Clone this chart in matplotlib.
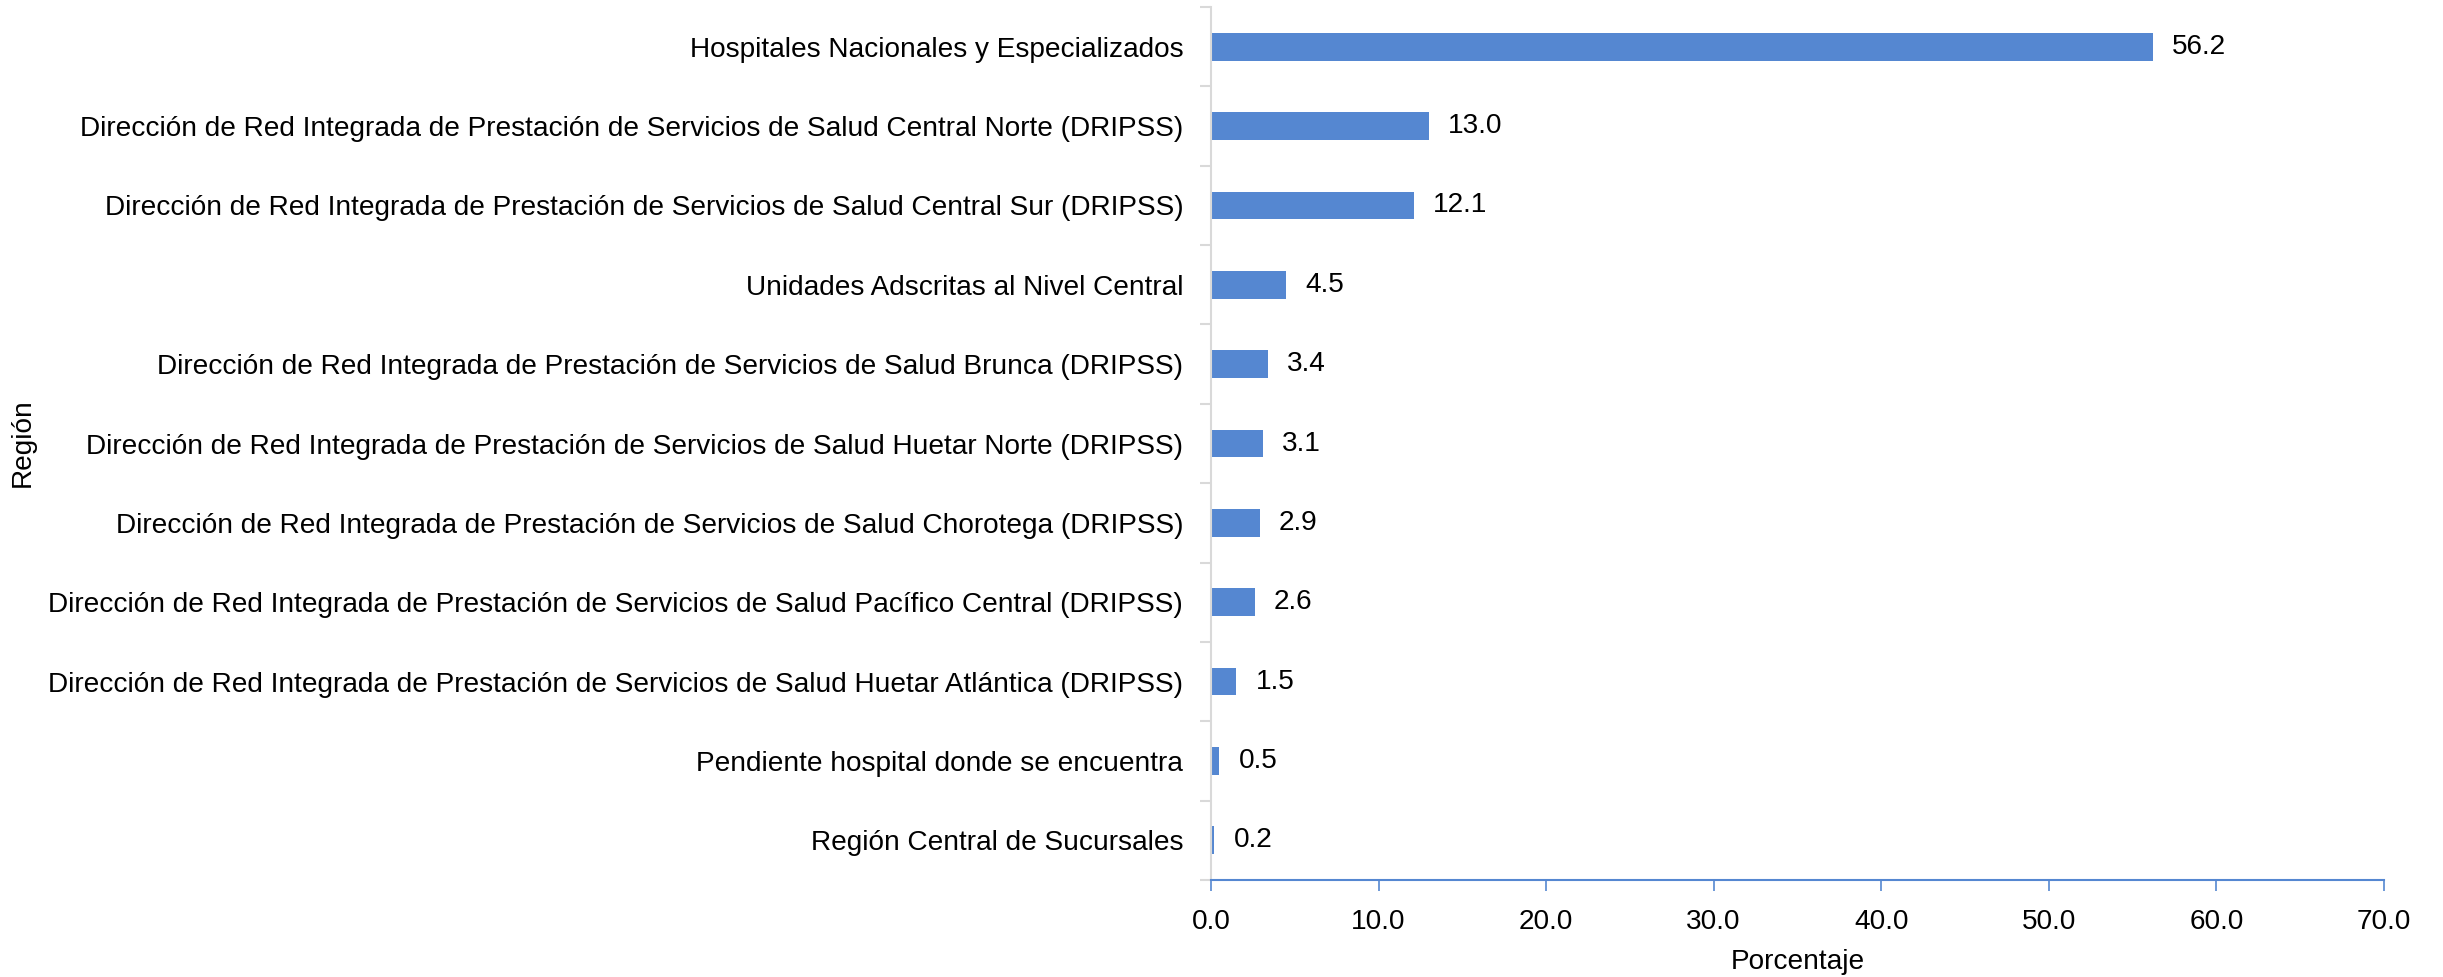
import matplotlib
matplotlib.use("Agg")
import matplotlib.pyplot as plt
from matplotlib.ticker import FixedLocator, FuncFormatter

plt.rcParams['font.family'] = ['Liberation Sans', 'DejaVu Sans']

categories = [
    "Hospitales Nacionales y Especializados",
    "Dirección de Red Integrada de Prestación de Servicios de Salud Central Norte (DRIPSS)",
    "Dirección de Red Integrada de Prestación de Servicios de Salud Central Sur (DRIPSS)",
    "Unidades Adscritas al Nivel Central",
    "Dirección de Red Integrada de Prestación de Servicios de Salud Brunca (DRIPSS)",
    "Dirección de Red Integrada de Prestación de Servicios de Salud Huetar Norte (DRIPSS)",
    "Dirección de Red Integrada de Prestación de Servicios de Salud Chorotega (DRIPSS)",
    "Dirección de Red Integrada de Prestación de Servicios de Salud Pacífico Central (DRIPSS)",
    "Dirección de Red Integrada de Prestación de Servicios de Salud Huetar Atlántica (DRIPSS)",
    "Pendiente hospital donde se encuentra",
    "Región Central de Sucursales",
]
values = [56.2, 13.0, 12.1, 4.5, 3.4, 3.1, 2.9, 2.6, 1.5, 0.5, 0.2]
xticks = [0, 10, 20, 30, 40, 50, 60, 70]

FS = 20.2
bar_color = '#5587d1'
fig = plt.figure(figsize=(24.43, 9.77), dpi=100)
ax = fig.add_axes([0.4957, 0.0993, 0.4801, 0.8935])

n = len(categories)
ypos = list(range(n))
ax.barh(ypos, values, height=0.35, color=bar_color)
ax.set_ylim(n - 0.5, -0.5)
ax.set_xlim(0, 70)

ax.set_yticks(ypos)
ax.set_yticklabels(categories, fontsize=FS)
ax.yaxis.set_minor_locator(FixedLocator([i - 0.5 for i in range(n + 1)]))
ax.tick_params(axis='y', which='major', length=0, pad=20)
ax.tick_params(axis='y', which='minor', length=8, color='#d9d9d9', width=1.5)

ax.xaxis.set_major_locator(FixedLocator(xticks))
ax.xaxis.set_major_formatter(FuncFormatter(lambda v, p: f"{v:.1f}"))
ax.tick_params(axis='x', which='major', length=8, color=bar_color, width=1.2, labelsize=FS, pad=13)

for s in ['top', 'right']:
    ax.spines[s].set_visible(False)
ax.spines['left'].set_color('#d9d9d9')
ax.spines['left'].set_linewidth(1.5)
ax.spines['bottom'].set_color(bar_color)
ax.spines['bottom'].set_linewidth(1.5)

for y, v in zip(ypos, values):
    ax.annotate(f"{v:.1f}", xy=(v, y), xytext=(14, 0), textcoords='offset points',
                va='center', ha='left', fontsize=FS)

ax.set_xlabel("Porcentaje", fontsize=FS, labelpad=10)
fig.text(23 / 2443, 1 - 443 / 977, "Región", rotation=90, va='center', ha='center', fontsize=FS)

fig.savefig("out.png", dpi=100, facecolor='white')
